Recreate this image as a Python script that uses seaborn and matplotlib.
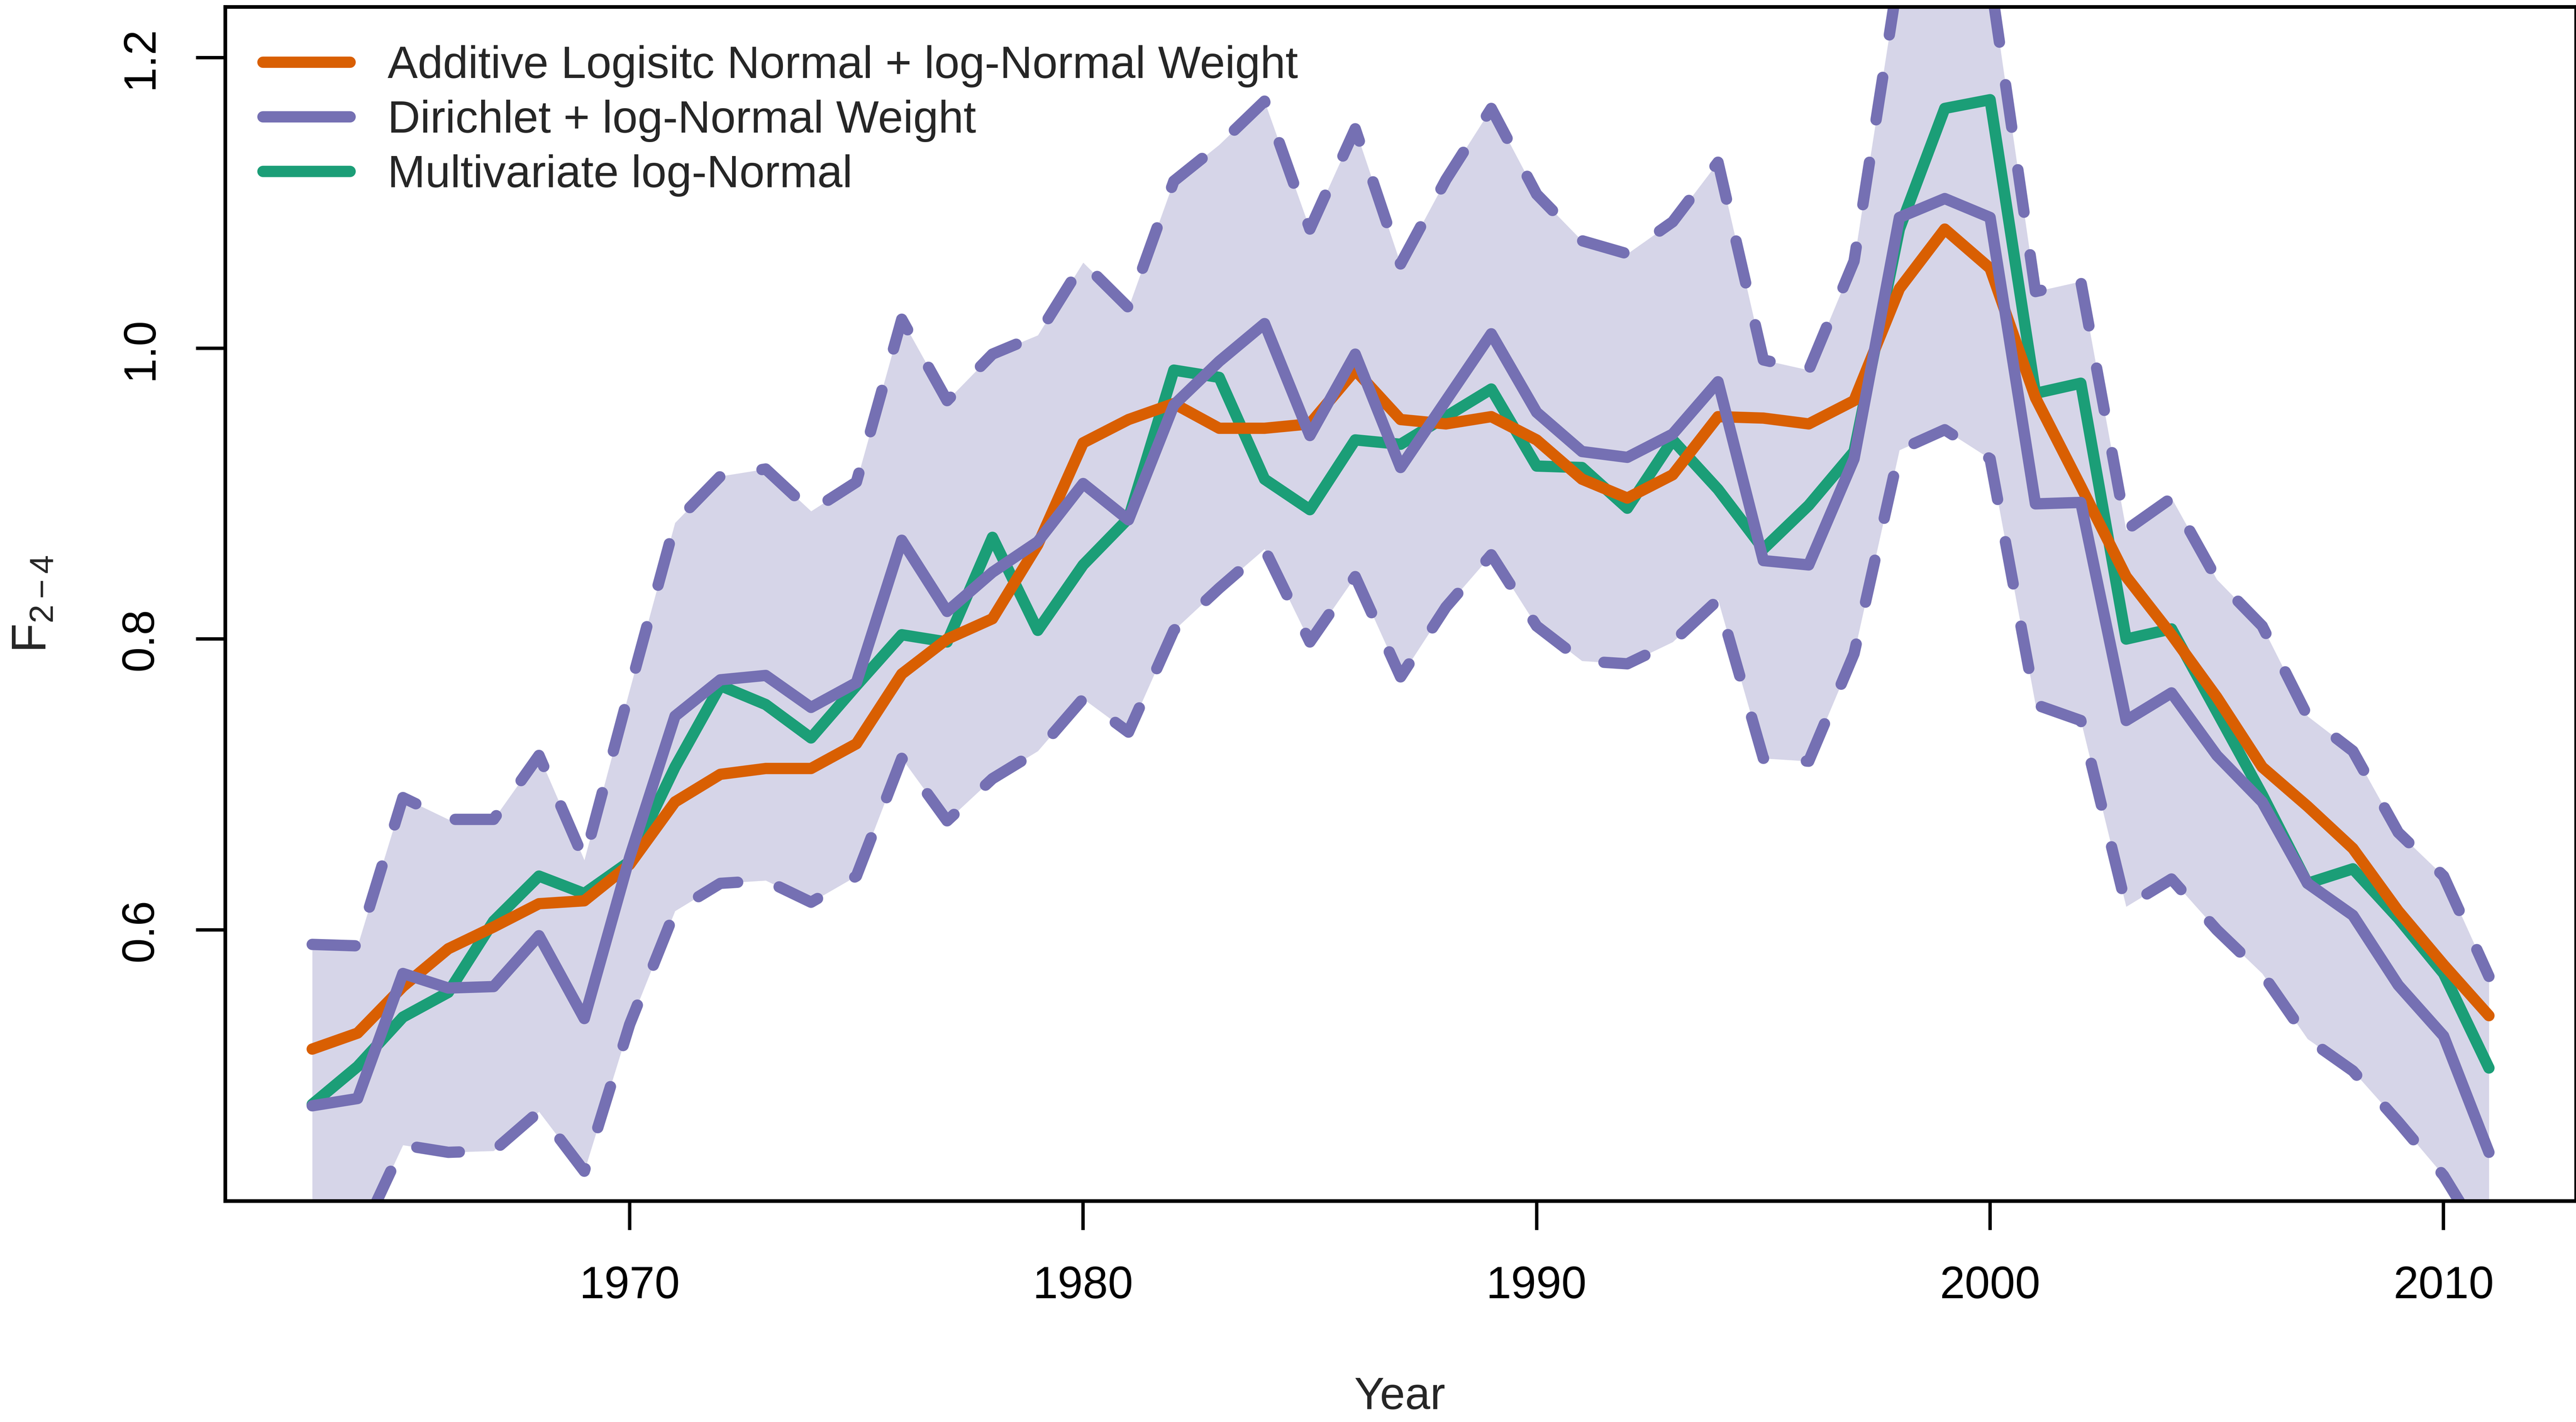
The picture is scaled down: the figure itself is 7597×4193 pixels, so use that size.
import numpy as np
import pandas as pd
import matplotlib
matplotlib.use("Agg")
import matplotlib.pyplot as plt
import seaborn as sns

# ---------------- data ----------------
years = list(range(1963, 2012))

aln_weight = [0.518, 0.529, 0.561, 0.587, 0.602, 0.618, 0.620, 0.645, 0.688, 0.707,
              0.711, 0.711, 0.728, 0.776, 0.800, 0.814, 0.865, 0.935, 0.951, 0.962,
              0.945, 0.945, 0.948, 0.985, 0.951, 0.948, 0.953, 0.937, 0.910, 0.897,
              0.913, 0.953, 0.952, 0.948, 0.964, 1.041, 1.082, 1.055, 0.966, 0.905,
              0.843, 0.803, 0.760, 0.712, 0.685, 0.656, 0.613, 0.576, 0.541]

mv_lognormal = [0.480, 0.506, 0.540, 0.557, 0.606, 0.637, 0.625, 0.647, 0.712, 0.768,
                0.755, 0.732, 0.768, 0.803, 0.798, 0.870, 0.806, 0.851, 0.883, 0.985,
                0.980, 0.910, 0.889, 0.937, 0.934, 0.953, 0.972, 0.919, 0.918, 0.890,
                0.937, 0.903, 0.862, 0.892, 0.929, 1.082, 1.165, 1.171, 0.969, 0.976,
                0.800, 0.807, 0.750, 0.693, 0.632, 0.642, 0.608, 0.570, 0.505]

dir_median = [0.479, 0.484, 0.570, 0.560, 0.561, 0.596, 0.539, 0.650, 0.747, 0.772,
              0.775, 0.753, 0.770, 0.868, 0.819, 0.846, 0.867, 0.907, 0.882, 0.961,
              0.991, 1.017, 0.940, 0.996, 0.918, 0.964, 1.010, 0.956, 0.929, 0.925,
              0.941, 0.977, 0.854, 0.851, 0.924, 1.090, 1.103, 1.090, 0.893, 0.894,
              0.744, 0.763, 0.720, 0.688, 0.632, 0.610, 0.562, 0.527, 0.447]

dir_upper = [0.590, 0.589, 0.691, 0.676, 0.676, 0.720, 0.648, 0.765, 0.880, 0.912,
             0.917, 0.888, 0.908, 1.020, 0.964, 0.996, 1.009, 1.059, 1.028, 1.115,
             1.140, 1.170, 1.082, 1.151, 1.058, 1.116, 1.165, 1.106, 1.074, 1.065,
             1.087, 1.128, 0.992, 0.985, 1.060, 1.260, 1.300, 1.255, 1.039, 1.046,
             0.875, 0.897, 0.841, 0.809, 0.747, 0.723, 0.667, 0.637, 0.568]

dir_lower = [0.370, 0.385, 0.452, 0.447, 0.448, 0.475, 0.434, 0.535, 0.613, 0.632,
             0.634, 0.619, 0.637, 0.718, 0.675, 0.704, 0.723, 0.759, 0.736, 0.806,
             0.835, 0.862, 0.798, 0.843, 0.774, 0.822, 0.858, 0.809, 0.785, 0.783,
             0.798, 0.827, 0.718, 0.716, 0.790, 0.930, 0.944, 0.924, 0.755, 0.744,
             0.616, 0.635, 0.600, 0.570, 0.525, 0.503, 0.468, 0.431, 0.380]

labels = ["Additive Logisitc Normal + log-Normal Weight",
          "Dirichlet + log-Normal Weight",
          "Multivariate log-Normal"]
x_ticks = [1970, 1980, 1990, 2000, 2010]
y_ticks = [0.6, 0.8, 1.0, 1.2]
y_ticklabels = ["0.6", "0.8", "1.0", "1.2"]

df = pd.DataFrame({"Year": years, "aln": aln_weight, "mvln": mv_lognormal,
                   "dmed": dir_median, "dup": dir_upper, "dlo": dir_lower})

# ---------------- style ----------------
sns.set_style("ticks")
plt.rcParams["font.family"] = ["Liberation Sans", "DejaVu Sans"]
plt.rcParams["mathtext.fontset"] = "custom"
plt.rcParams["mathtext.rm"] = "Liberation Sans"
plt.rcParams["mathtext.it"] = "Liberation Sans"

ORANGE = "#D95F02"
PURPLE = "#7570B3"
GREEN = "#1B9E77"
BAND = "#D6D5E8"
LW = 4.0
FS = 16

W, H = 7597, 4193
fig = plt.figure(figsize=(W / 600, H / 600), dpi=600)
ax = fig.add_axes([664 / W, 1 - 3541 / H, (W - 664) / W, (3541 - 20) / H])

# band
ax.fill_between(df["Year"], df["dlo"], df["dup"], color=BAND, lw=0, zorder=1)

# dashed bounds
for col in ["dlo", "dup"]:
    sns.lineplot(data=df, x="Year", y=col, ax=ax, color=PURPLE, lw=LW,
                 estimator=None, sort=False, legend=False, zorder=2)
    ln = ax.lines[-1]
    ln.set_dashes((3.8, 3.8))
    ln.set_dash_capstyle("round")
    ln.set_dash_joinstyle("round")

line_kw = dict(lw=LW, estimator=None, sort=False, legend=False,
               solid_capstyle="round", solid_joinstyle="round")
sns.lineplot(data=df, x="Year", y="mvln", ax=ax, color=GREEN, zorder=3, **line_kw)
h_green = ax.lines[-1]
sns.lineplot(data=df, x="Year", y="aln", ax=ax, color=ORANGE, zorder=4, **line_kw)
h_orange = ax.lines[-1]
sns.lineplot(data=df, x="Year", y="dmed", ax=ax, color=PURPLE, zorder=5, **line_kw)
h_purple = ax.lines[-1]

# axes
ax.set_xlim(1961.08, 2012.92)
ax.set_ylim(0.4136, 1.2349)
ax.set_xticks(x_ticks)
ax.set_xticklabels([str(t) for t in x_ticks])
ax.set_yticks(y_ticks)
ax.set_yticklabels(y_ticklabels)
for s in ax.spines.values():
    s.set_visible(True)
    s.set_linewidth(1.3)
    s.set_color("black")
ax.tick_params(axis="both", direction="out", length=10.3, width=1.2,
               color="black", labelsize=FS, labelcolor="black")
ax.tick_params(axis="x", pad=12.5)
ax.tick_params(axis="y", pad=12, labelrotation=90)
for t in ax.get_yticklabels():
    t.set_va("center")

ax.set_xlabel("Year", fontsize=FS, va="center")
ax.xaxis.set_label_coords(0.4996, -0.1645)
ax.set_ylabel(r"$\mathregular{F_{2-4}}$", fontsize=FS + 1, va="center")
ax.yaxis.set_label_coords(-0.0815, 0.5)

leg = ax.legend([h_orange, h_purple, h_green], labels, loc="upper left",
                bbox_to_anchor=(0.016, 0.968), frameon=False, fontsize=FS,
                borderpad=0, borderaxespad=0, handlelength=1.93,
                handletextpad=0.83, labelspacing=0.27)
for lh in leg.get_lines():
    lh.set_linewidth(LW)
    lh.set_solid_capstyle("round")

fig.savefig("out.png", dpi=600)
